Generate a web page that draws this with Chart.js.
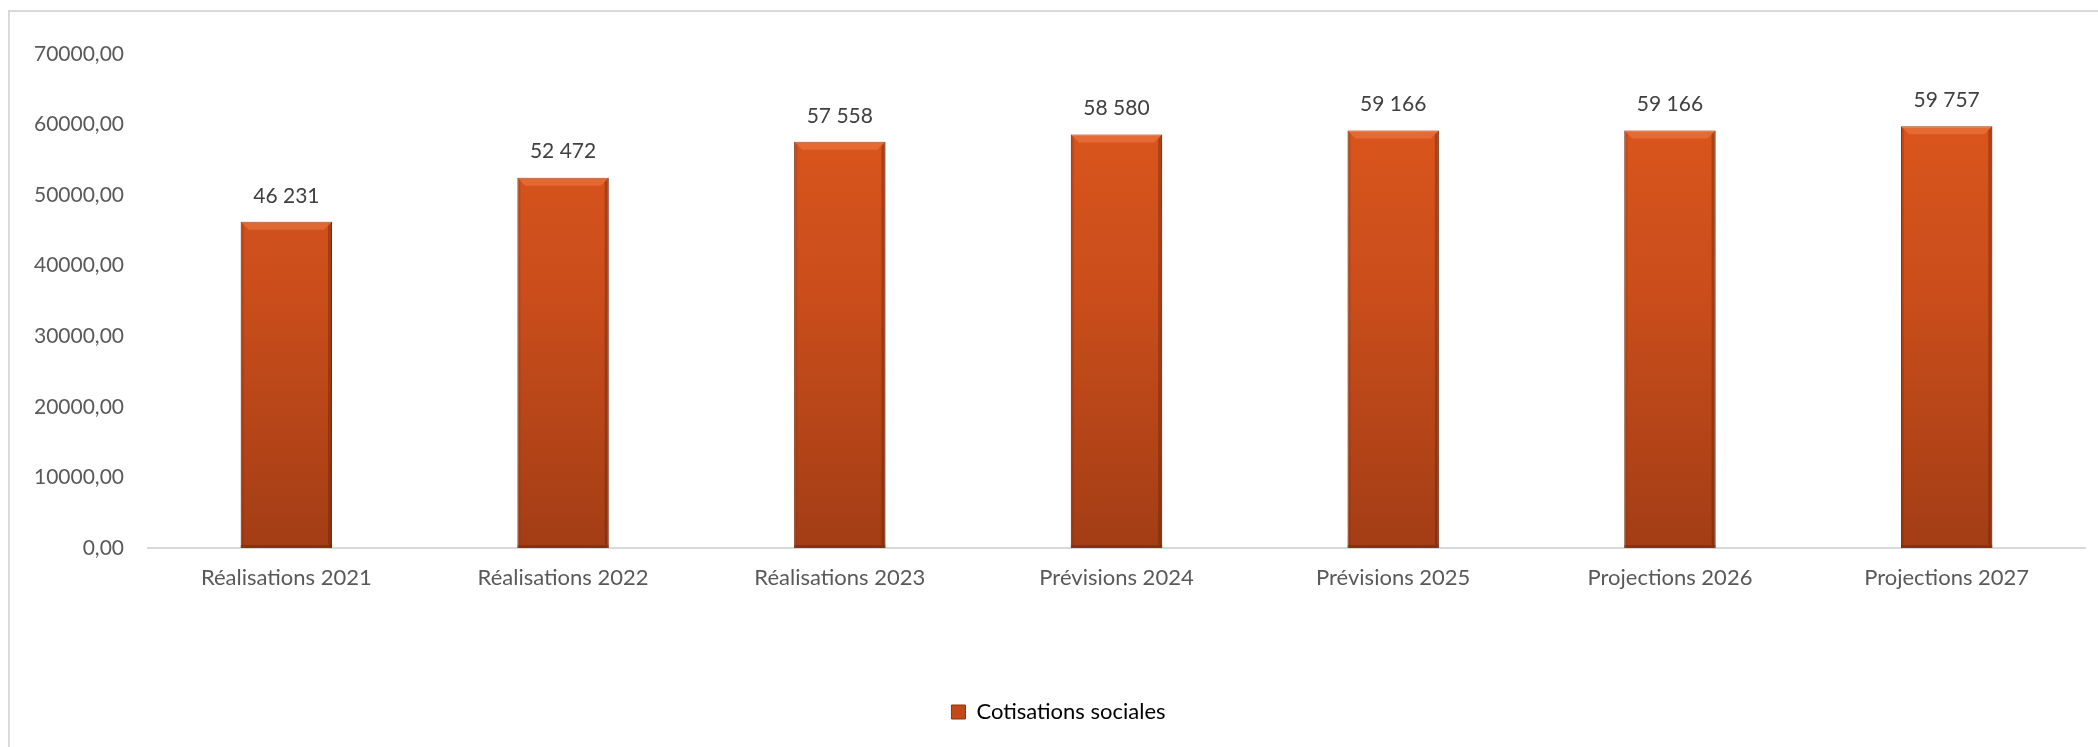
<!DOCTYPE html>
<html>
<head>
<meta charset="utf-8">
<script src="https://cdn.jsdelivr.net/npm/chart.js@4/dist/chart.umd.min.js"></script>
<style>
  body { margin: 0; background: #fff; overflow: hidden; }
  #frame { position: absolute; left: 8px; top: 10px; width: 2140px; height: 780px; border: 2px solid #d9d9d9; box-sizing: border-box; }
  #wrap { position: absolute; left: 0; top: 0; width: 2098px; height: 747px; }
</style>
</head>
<body>
<div id="frame"></div>
<div id="wrap"><canvas id="chart" width="2098" height="747"></canvas></div>
<script>
// Data
const categories = ['Réalisations 2021', 'Réalisations 2022', 'Réalisations 2023', 'Prévisions 2024', 'Prévisions 2025', 'Projections 2026', 'Projections 2027'];
const cotisations = [46231, 52472, 57558, 58580, 59166, 59166, 59757];
const seriesName = 'Cotisations sociales';

const FONT = 'Lato, "Open Sans", sans-serif';

// thousands with a space, e.g. 46 231
function fmtValue(v) {
  return String(Math.round(v)).replace(/\B(?=(\d{3})+(?!\d))/g, ' ');
}

function barGradient(ctx) {
  const area = ctx.chart.chartArea;
  if (!area) return '#c94c1a';
  const g = ctx.chart.ctx.createLinearGradient(0, area.top, 0, area.bottom);
  g.addColorStop(0, '#e0581d');
  g.addColorStop(0.5, '#c94d1b');
  g.addColorStop(1, '#a33d15');
  return g;
}

// bevel-ish shading and value labels
const barDecor = {
  id: 'barDecor',
  afterDatasetsDraw(chart) {
    const c = chart.ctx;
    const meta = chart.getDatasetMeta(0);
    meta.data.forEach((bar, i) => {
      const half = bar.width / 2;
      const left = bar.x - half, right = bar.x + half;
      const top = bar.y, bottom = bar.base;
      const b = 8;
      c.save();
      // top bevel, lighter
      c.fillStyle = 'rgba(255,150,95,0.35)';
      c.beginPath();
      c.moveTo(left, top); c.lineTo(right, top);
      c.lineTo(right - b, top + b); c.lineTo(left + b, top + b);
      c.closePath(); c.fill();
      // right side, darker
      c.fillStyle = 'rgba(90,30,5,0.35)';
      c.beginPath();
      c.moveTo(right, top); c.lineTo(right, bottom);
      c.lineTo(right - 4, bottom - 4); c.lineTo(right - 4, top + 4);
      c.closePath(); c.fill();
      // left side
      c.fillStyle = 'rgba(120,40,10,0.25)';
      c.beginPath();
      c.moveTo(left, top); c.lineTo(left, bottom);
      c.lineTo(left + 3, bottom - 3); c.lineTo(left + 3, top + 3);
      c.closePath(); c.fill();
      // bottom edge
      c.fillStyle = 'rgba(90,30,5,0.35)';
      c.fillRect(left, bottom - 3, bar.width, 3);

      c.fillStyle = '#404040';
      c.font = '21px ' + FONT;
      c.textAlign = 'center';
      c.textBaseline = 'middle';
      c.fillText(fmtValue(cotisations[i]), bar.x, top - 26);
      c.restore();
    });
  }
};

new Chart(document.getElementById('chart'), {
  type: 'bar',
  data: {
    labels: categories,
    datasets: [{
      label: seriesName,
      data: cotisations,
      backgroundColor: barGradient,
      borderColor: '#8a3311',
      borderWidth: 1,
      barPercentage: 0.33,
      categoryPercentage: 1
    }]
  },
  options: {
    responsive: false,
    animation: false,
    devicePixelRatio: 1,
    layout: { padding: { left: 32, right: 13, top: 54, bottom: 14 } },
    scales: {
      x: {
        grid: { display: false },
        border: { display: true, color: '#d9d9d9', width: 2 },
        ticks: { color: '#595959', font: { family: FONT, size: 22 }, padding: 9, maxRotation: 0 },
        afterFit(scale) { scale.height = 143; }
      },
      y: {
        min: 0,
        max: 70000,
        grid: { display: false, drawTicks: false },
        border: { display: false },
        ticks: {
          stepSize: 10000,
          color: '#595959',
          font: { family: FONT, size: 21 },
          padding: 24,
          callback: v => v.toFixed(2).replace('.', ',')
        },
        afterFit(scale) { scale.width = 116; }
      }
    },
    plugins: {
      legend: {
        position: 'bottom',
        labels: {
          color: '#595959',
          font: { family: FONT, size: 22 },
          boxWidth: 14,
          boxHeight: 14,
          padding: 10,
          generateLabels(chart) {
            return [{ text: seriesName, fillStyle: '#c24a19', strokeStyle: '#8a3311', lineWidth: 1, datasetIndex: 0 }];
          }
        }
      },
      tooltip: { enabled: false }
    }
  },
  plugins: [barDecor]
});
</script>
</body>
</html>
